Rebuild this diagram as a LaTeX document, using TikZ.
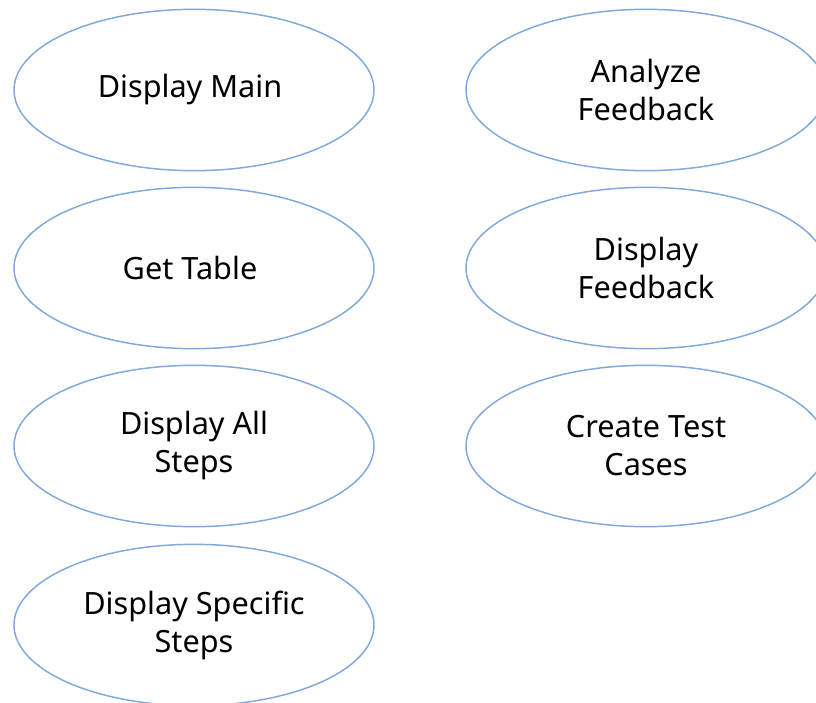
\documentclass[tikz,border=0pt]{standalone}
\usepackage{fontspec}
\setmainfont{Noto Sans}
\usetikzlibrary{shapes.geometric}

\definecolor{ovalblue}{RGB}{128,168,220}

\begin{document}
\begin{tikzpicture}[x=0.75pt,y=-0.75pt,
      usecase/.style={ellipse,draw=ovalblue,line width=1.1pt,
        minimum width=270pt,minimum height=121pt,inner sep=0pt,
        align=center,font=\fontsize{23}{28.5}\selectfont}]
      \useasboundingbox (0,0) rectangle (816,702);
      \clip (0,0) rectangle (816,702);

      \node[usecase] (main)     at (194, 90) { Display Main };
      \node[usecase] (table)    at (194,268) { Get Table };
      \node[usecase] (allsteps) at (194,446) { Display All\\Steps };
      \node[usecase] (specific) at (194,625) { Display Specific\\Steps };

      \node[usecase] (analyze)  at (646, 90) { Analyze\\Feedback };
      \node[usecase] (feedback) at (646,268) { Display\\Feedback };
      \node[usecase] (tests)    at (646,446) { Create Test\\Cases };
      \end{tikzpicture}
\end{document}
